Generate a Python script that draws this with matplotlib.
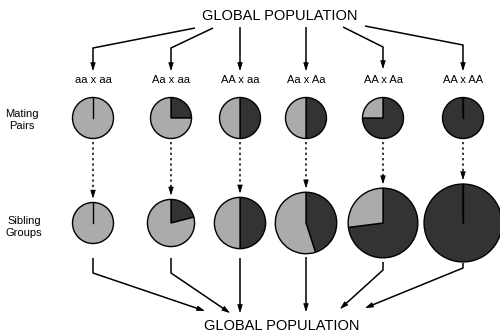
import math
import matplotlib.pyplot as plt

plt.rcParams['font.family'] = ['Liberation Sans', 'DejaVu Sans']

crosses = ['aa x aa', 'Aa x aa', 'AA x aa', 'Aa x Aa', 'AA x Aa', 'AA x AA']
# dark share of each pie (clockwise from 12 o'clock)
mating_dark = [0.0, 0.25, 0.5, 0.5, 0.75, 1.0]
sibling_dark = [0.0, 0.21, 0.5, 0.45, 0.73, 1.0]
# relative size of each sibling group
sibling_size = [1.0, 1.15, 1.25, 1.5, 1.7, 1.9]
row_labels = ['Mating\nPairs', 'Sibling\nGroups']
title = 'GLOBAL POPULATION'

DARK = '#333333'
LIGHT = '#ababab'
H = 335


def Y(y):
    # layout measured from the top edge
    return H - y


col_x = [93, 171, 240, 306, 383, 463]
mate_y = 118
sib_y = 223
base_r = 20.5

fig = plt.figure(figsize=(5, 3.35), dpi=100)
ax = fig.add_axes([0, 0, 1, 1])


def arrow(ax, pts, dotted=False):
    # polyline with a small filled arrowhead on the last point
    xs = [p[0] for p in pts]
    ys = [Y(p[1]) for p in pts]
    dx, dy = xs[-1] - xs[-2], ys[-1] - ys[-2]
    n = math.hypot(dx, dy)
    ux, uy = dx / n, dy / n
    ls = (0, (1.5, 2.0)) if dotted else '-'
    ax.plot(xs[:-1] + [xs[-1] - 3 * ux], ys[:-1] + [ys[-1] - 3 * uy],
            color='black', lw=1.1, ls=ls, solid_capstyle='butt')
    ax.annotate('', xy=(xs[-1], ys[-1]),
                xytext=(xs[-1] - 6 * ux, ys[-1] - 6 * uy),
                arrowprops=dict(arrowstyle='-|>,head_length=0.5,head_width=0.16',
                                color='black', lw=0.6, shrinkA=0, shrinkB=0))


def pie(ax, cx, cy, r, dark):
    ax.pie([dark, 1 - dark], colors=[DARK, LIGHT], startangle=90,
           counterclock=False, center=(cx, Y(cy)), radius=r, frame=True,
           wedgeprops=dict(edgecolor='black', linewidth=1.0))
    if dark in (0.0, 1.0):
        ax.plot([cx, cx], [Y(cy), Y(cy - r)], color='black', lw=1.0)


# top fan-out from the global population
top_routes = [
    [(195, 28), (93, 48), (93, 71)],
    [(213, 28), (171, 48), (171, 71)],
    [(240, 27), (240, 71)],
    [(306, 27), (306, 71)],
    [(343, 27), (383, 47), (383, 69)],
    [(365, 26), (463, 45), (463, 71)],
]
for route in top_routes:
    arrow(ax, route)

for i, x in enumerate(col_x):
    ax.text(x, Y(80), crosses[i], ha='center', va='center', fontsize=8)
    pie(ax, x, mate_y, base_r, mating_dark[i])
    r = base_r * sibling_size[i]
    pie(ax, x, sib_y, r, sibling_dark[i])
    arrow(ax, [(x, mate_y + base_r + 3), (x, sib_y - r - 4)], dotted=True)

# sibling groups back into the global population
bottom_routes = [
    [(93, 258), (93, 273), (205, 311)],
    [(171, 258), (171, 273), (230, 313)],
    [(240, 258), (240, 313)],
    [(306, 257), (306, 312)],
    [(383, 262), (383, 270), (340, 309)],
    [(463, 263), (463, 268), (365, 308)],
]
for route in bottom_routes:
    arrow(ax, route)

ax.text(280, Y(16), title, ha='center', va='center', fontsize=10.5)
ax.text(282, Y(326), title, ha='center', va='center', fontsize=10.5)
ax.text(22, Y(120), row_labels[0], ha='center', va='center', fontsize=8,
        linespacing=1.15)
ax.text(24, Y(227), row_labels[1], ha='center', va='center', fontsize=8,
        linespacing=1.15)

ax.set_xlim(0, 500)
ax.set_ylim(0, H)
ax.set_aspect('equal')
ax.axis('off')

fig.savefig('out.png', dpi=100, facecolor='white')
